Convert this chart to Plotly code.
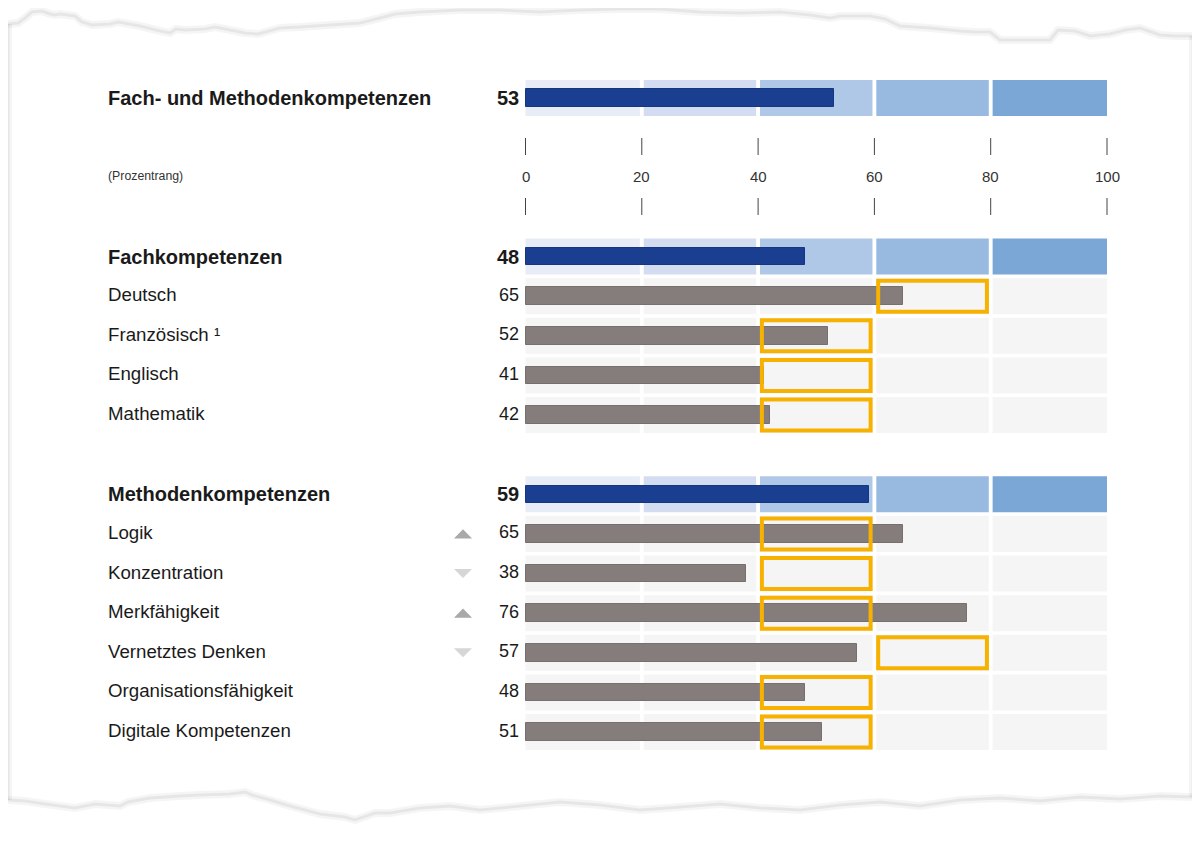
import plotly.graph_objects as go

# ---------------- data ----------------
labels = ["Fach- und Methodenkompetenzen", "Fachkompetenzen", "Deutsch", "Französisch ¹",
          "Englisch", "Mathematik", "Methodenkompetenzen", "Logik", "Konzentration",
          "Merkfähigkeit", "Vernetztes Denken", "Organisationsfähigkeit", "Digitale Kompetenzen"]
values = [53, 48, 65, 52, 41, 42, 59, 65, 38, 76, 57, 48, 51]
is_summary = [True, True, False, False, False, False, True, False, False, False, False, False, False]
expected_low = [None, None, 60, 40, 40, 40, None, 40, 40, 40, 60, 40, 40]
expected_high = [None, None, 80, 60, 60, 60, None, 60, 60, 60, 80, 60, 60]
trend = [None, None, None, None, None, None, None, "up", "down", "up", "down", None, None]
tick_values = [0, 20, 40, 60, 80, 100]
tick_labels = ["0", "20", "40", "60", "80", "100"]
axis_note = "(Prozentrang)"

# ---------------- layout helpers ----------------
row_pos = [0, 4, 5, 6, 7, 8, 10, 11, 12, 13, 14, 15, 16]
OFF = 8                         # page body margin
W, H = 1184, 827
X0PX, PXU = 525.5 - OFF, 5.815  # pixel of value 0, pixels per unit
Y0PX, PYU = 98 - OFF, 39.625    # pixel of row 0, pixels per row
xr = [(0 - X0PX) / PXU, (W - X0PX) / PXU]
yr = [(H - Y0PX) / PYU, (0 - Y0PX) / PYU]

band_colors = ["#e7ecf6", "#d3dcf0", "#b0c8e8", "#98b9e0", "#7ba7d7"]
cell_grey = "#f5f5f5"
blue = "#1b3f90"
grey_bar = "#857d7b"
orange = "#f7b100"
FONT = "Liberation Sans, Arial, sans-serif"

shapes = []
annotations = []
gap = 0.33
cell_half = 18 / PYU

for lab, v, summ, pos in zip(labels, values, is_summary, row_pos):
    for i in range(5):
        x0 = i * 20 + (gap if i > 0 else 0)
        x1 = (i + 1) * 20 - (gap if i < 4 else 0)
        shapes.append(dict(type="rect", xref="x", yref="y", x0=x0, x1=x1,
                           y0=pos - cell_half, y1=pos + cell_half,
                           fillcolor=band_colors[i] if summ else cell_grey,
                           line=dict(width=0), layer="below"))

# expected range boxes
for lo, hi, pos in zip(expected_low, expected_high, row_pos):
    if lo is None:
        continue
    shapes.append(dict(type="rect", xref="x", yref="y", x0=lo + 0.65, x1=hi - 0.65,
                       y0=pos - 15.5 / PYU, y1=pos + 15.5 / PYU,
                       line=dict(color=orange, width=4), fillcolor="rgba(0,0,0,0)", layer="above"))

# trend triangles
tx = (463 - OFF - X0PX) / PXU
thw = 9 / PXU
thh = 4.6 / PYU
for t, pos in zip(trend, row_pos):
    if t is None:
        continue
    if t == "up":
        path = f"M {tx-thw} {pos+thh} L {tx+thw} {pos+thh} L {tx} {pos-thh} Z"
        col = "#a9a9a9"
    else:
        path = f"M {tx-thw} {pos-thh} L {tx+thw} {pos-thh} L {tx} {pos+thh} Z"
        col = "#d6d6d6"
    shapes.append(dict(type="path", xref="x", yref="y", path=path, fillcolor=col, line=dict(width=0)))

fig = go.Figure()

# bars
sum_y = [p for p, s in zip(row_pos, is_summary) if s]
sum_v = [v for v, s in zip(values, is_summary) if s]
sub_y = [p for p, s in zip(row_pos, is_summary) if not s]
sub_v = [v for v, s in zip(values, is_summary) if not s]
fig.add_trace(go.Bar(orientation="h", x=sum_v, y=sum_y, base=0, width=17.5 / PYU,
                     marker=dict(color=blue, line=dict(color="#163680", width=1)),
                     hoverinfo="skip", showlegend=False))
fig.add_trace(go.Bar(orientation="h", x=sub_v, y=sub_y, base=0, width=17.5 / PYU,
                     marker=dict(color=grey_bar, line=dict(color="#776f6d", width=1)),
                     hoverinfo="skip", showlegend=False))

# labels and values
lab_x = (105.5 - OFF - X0PX) / PXU
val_x = (521 - OFF - X0PX) / PXU
dy = 1.5 / PYU
for lab, v, summ, pos in zip(labels, values, is_summary, row_pos):
    annotations.append(dict(x=lab_x, y=pos - (0 if summ else dy), xref="x", yref="y",
                            text=f"<b>{lab}</b>" if summ else lab,
                            xanchor="left", yanchor="middle", showarrow=False,
                            font=dict(family=FONT, size=20 if summ else 18.7, color="#1a1a1a")))
    annotations.append(dict(x=val_x, y=pos - (0 if summ else dy), xref="x", yref="y",
                            text=f"<b>{v}</b>" if summ else str(v),
                            xanchor="right", yanchor="middle", showarrow=False,
                            font=dict(family=FONT, size=20 if summ else 18, color="#1a1a1a")))

# axis ticks & labels
def yu(px):
    return (px - OFF - Y0PX) / PYU

t1a, t1b = yu(138), yu(155)
t2a, t2b = yu(198), yu(215)
tl_y = yu(176)
tx_list, ty_list = [], []
for tv in tick_values:
    tx_list += [tv, tv, None, tv, tv, None]
    ty_list += [t1a, t1b, None, t2a, t2b, None]
fig.add_trace(go.Scatter(x=tx_list, y=ty_list, mode="lines", line=dict(color="#444444", width=1),
                         hoverinfo="skip", showlegend=False))
for tv, tl in zip(tick_values, tick_labels):
    annotations.append(dict(x=tv, y=tl_y, xref="x", yref="y", text=tl, xanchor="center",
                            yanchor="middle", showarrow=False,
                            font=dict(family=FONT, size=15, color="#333333")))
annotations.append(dict(x=lab_x, y=tl_y, xref="x", yref="y", text=axis_note, xanchor="left",
                        yanchor="middle", showarrow=False,
                        font=dict(family=FONT, size=12.3, color="#333333")))

# decorative torn paper edges (screen pixel coordinates -> paper)
def ppath(pts):
    s = ""
    for i, (px, py) in enumerate(pts):
        s += ("M " if i == 0 else " L ") + f"{(px - OFF) / W:.5f} {1 - (py - OFF) / H:.5f}"
    return s

top_edge = [(8, 24), (18, 23), (25, 18), (32, 12), (42, 11), (50, 14), (55, 15), (60, 14), (75, 16),
            (82, 22), (92, 25), (110, 24), (118, 22), (140, 26), (160, 31), (170, 33), (176, 29),
            (185, 30), (205, 29), (215, 27), (225, 29), (245, 33), (258, 34), (280, 28), (300, 27),
            (330, 25), (360, 23), (380, 18), (395, 14), (420, 12), (460, 10), (500, 10), (540, 12),
            (580, 10), (620, 9), (660, 9), (700, 12), (740, 13), (780, 12), (810, 15), (830, 18),
            (840, 16), (870, 16), (885, 19), (900, 26), (930, 28), (960, 31), (975, 32), (990, 32),
            (1000, 40), (1050, 40), (1058, 30), (1075, 31), (1090, 36), (1110, 34), (1125, 30),
            (1140, 28), (1160, 35), (1175, 36), (1193, 36)]
bottom_edge = [(8, 800), (25, 801), (45, 804), (75, 808), (95, 804), (120, 806), (128, 802),
               (150, 798), (180, 796), (200, 795), (230, 794), (245, 792), (252, 795), (270, 800),
               (290, 806), (320, 814), (345, 817), (355, 820), (375, 813), (390, 813), (420, 808),
               (450, 806), (480, 810), (520, 806), (560, 802), (600, 805), (640, 810), (680, 807),
               (720, 804), (760, 808), (800, 810), (840, 805), (880, 802), (920, 806), (960, 800),
               (1000, 798), (1040, 801), (1080, 797), (1120, 799), (1160, 796), (1193, 797)]
for pts in [top_edge, bottom_edge, [(8, 24), (8, 800)], [(1193, 36), (1193, 797)]]:
    shapes.append(dict(type="path", xref="paper", yref="paper", path=ppath(pts),
                       line=dict(color="rgba(0,0,0,0.04)", width=8), layer="below"))
    shapes.append(dict(type="path", xref="paper", yref="paper", path=ppath(pts),
                       line=dict(color="rgba(0,0,0,0.06)", width=3), layer="below"))

fig.update_layout(
    width=W, height=H, margin=dict(l=0, r=0, t=0, b=0),
    paper_bgcolor="white", plot_bgcolor="white",
    xaxis=dict(range=xr, visible=False, fixedrange=True),
    yaxis=dict(range=yr, visible=False, fixedrange=True),
    shapes=shapes, annotations=annotations, bargap=0, barmode="overlay",
    font=dict(family=FONT),
)
fig.write_html("out.html", config={"displayModeBar": False})
